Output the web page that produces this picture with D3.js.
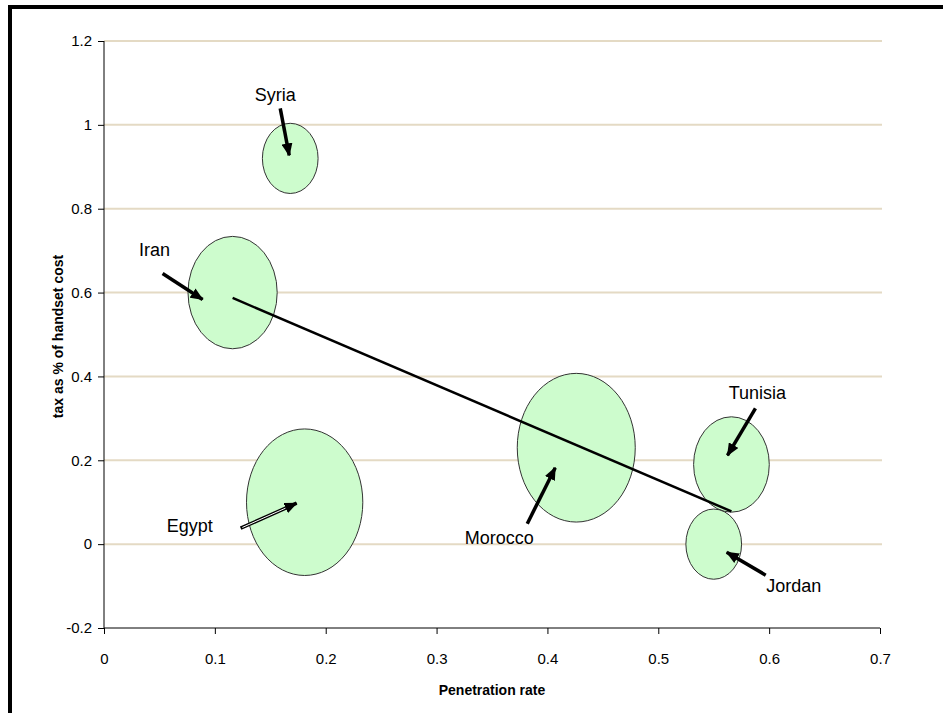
<!DOCTYPE html>
<html>
<head>
<meta charset="utf-8">
<script src="https://cdn.jsdelivr.net/npm/d3@7"></script>
<style>
  html, body { margin: 0; padding: 0; background: #fff; }
  svg { display: block; font-family: "Liberation Sans", Arial, sans-serif; }
</style>
</head>
<body>
<svg id="chart" width="943" height="713"></svg>
<script>
// ---- data ----
const countries   = ["Syria", "Iran", "Egypt", "Morocco", "Tunisia", "Jordan"];
const penetration = [0.168, 0.116, 0.181, 0.426, 0.566, 0.550];
const taxShare    = [0.92, 0.60, 0.10, 0.23, 0.19, 0.00];
const bubbleSize  = [7.8, 20, 34, 35, 14.4, 7.8];
const xTicks = [0, 0.1, 0.2, 0.3, 0.4, 0.5, 0.6, 0.7];
const yTicks = [-0.2, 0, 0.2, 0.4, 0.6, 0.8, 1, 1.2];
const xTickLabels = ["0", "0.1", "0.2", "0.3", "0.4", "0.5", "0.6", "0.7"];
const yTickLabels = ["-0.2", "0", "0.2", "0.4", "0.6", "0.8", "1", "1.2"];
const xTitle = "Penetration rate";
const yTitle = "tax as % of handset cost";

// ---- annotation layout (pixel offsets from each bubble centre) ----
const labelLayout = {
  Syria:   { text: [-15, -57], tail: [-10, -50], head: [-1, -3] },
  Iran:    { text: [-78, -37], tail: [-70, -19], head: [-30, 7] },
  Egypt:   { text: [-115, 30], tail: [-64, 26],  head: [-8, 1], hollow: true },
  Morocco: { text: [-77, 96],  tail: [-49, 76],  head: [-21, 20] },
  Tunisia: { text: [26, -65],  tail: [24, -56],  head: [-4, -9] },
  Jordan:  { text: [80, 48],   tail: [52, 31],   head: [13, 8] }
};

const svg = d3.select("#chart");
const W = 943, H = 713;
const plot = { left: 104, right: 880, top: 41, bottom: 628 };

// frame
svg.append("rect").attr("x", 10).attr("y", 7).attr("width", W + 20).attr("height", H + 20)
  .attr("fill", "none").attr("stroke", "#000").attr("stroke-width", 4);

const x = d3.scaleLinear().domain([0, 0.7]).range([plot.left, plot.right]);
const y = d3.scaleLinear().domain([-0.2, 1.2]).range([plot.bottom, plot.top]);
const r = d3.scaleSqrt().domain([0, 35]).range([0, 59]);
const aspect = 1.26;

// gridlines
svg.append("g").selectAll("line").data(yTicks.filter(t => t > -0.2)).join("line")
  .attr("x1", plot.left).attr("x2", plot.right + 2)
  .attr("y1", d => y(d)).attr("y2", d => y(d))
  .attr("stroke", "#E4DAC4").attr("stroke-width", 2);

// axes
const xAxis = d3.axisBottom(x).tickValues(xTicks).tickFormat((d, i) => xTickLabels[i]).tickSize(6).tickPadding(19);
const yAxis = d3.axisLeft(y).tickValues(yTicks).tickFormat((d, i) => yTickLabels[i]).tickSize(6).tickPadding(6);

const gx = svg.append("g").attr("transform", `translate(0,${plot.bottom})`).call(xAxis);
const gy = svg.append("g").attr("transform", `translate(${plot.left},0)`).call(yAxis);
[gx, gy].forEach(g => {
  g.select(".domain").attr("stroke", "#000").attr("stroke-width", 1);
  g.selectAll(".tick line").attr("stroke", "#000");
  g.selectAll(".tick text").attr("fill", "#000").attr("font-size", 15)
    .attr("font-family", "'Liberation Sans', Arial, sans-serif");
});
gx.select(".domain").attr("d", `M${plot.left},0H${plot.right}`);
gy.select(".domain").attr("d", `M0,${plot.bottom}V${plot.top}`);

// bubbles
const pts = countries.map((c, i) => ({ c, px: penetration[i], ty: taxShare[i], s: bubbleSize[i] }));
svg.append("g").selectAll("ellipse").data(pts).join("ellipse")
  .attr("cx", d => x(d.px)).attr("cy", d => y(d.ty))
  .attr("rx", d => r(d.s)).attr("ry", d => r(d.s) * aspect)
  .attr("fill", "#CDFCCD").attr("stroke", "#333").attr("stroke-width", 1);

// linear trend line (least squares)
const mx = d3.mean(penetration), my = d3.mean(taxShare);
const sxy = d3.sum(penetration, (v, i) => (v - mx) * (taxShare[i] - my));
const sxx = d3.sum(penetration, v => (v - mx) * (v - mx));
const slope = sxy / sxx, icpt = my - slope * mx;
const [x0, x1] = d3.extent(penetration);
svg.append("line")
  .attr("x1", x(x0)).attr("y1", y(icpt + slope * x0))
  .attr("x2", x(x1)).attr("y2", y(icpt + slope * x1))
  .attr("stroke", "#000").attr("stroke-width", 2.5);

// arrow marker
svg.append("defs").append("marker")
  .attr("id", "ah").attr("markerUnits", "userSpaceOnUse")
  .attr("viewBox", "0 0 13 11").attr("refX", 12).attr("refY", 5.5)
  .attr("markerWidth", 13).attr("markerHeight", 11).attr("orient", "auto")
  .append("path").attr("d", "M0,0L13,5.5L0,11Z").attr("fill", "#000");

// annotations
const ann = svg.append("g");
pts.forEach(d => {
  const L = labelLayout[d.c];
  const cx = x(d.px), cy = y(d.ty);
  ann.append("line")
    .attr("x1", cx + L.tail[0]).attr("y1", cy + L.tail[1])
    .attr("x2", cx + L.head[0]).attr("y2", cy + L.head[1])
    .attr("stroke", "#000").attr("stroke-width", 3.5)
    .attr("marker-end", "url(#ah)");
  if (L.hollow) {
    const dx = L.head[0] - L.tail[0], dy = L.head[1] - L.tail[1];
    ann.append("line")
      .attr("x1", cx + L.tail[0] + dx * 0.03).attr("y1", cy + L.tail[1] + dy * 0.03)
      .attr("x2", cx + L.tail[0] + dx * 0.8).attr("y2", cy + L.tail[1] + dy * 0.8)
      .attr("stroke", "#fff").attr("stroke-width", 1);
  }
  ann.append("text")
    .attr("x", cx + L.text[0]).attr("y", cy + L.text[1])
    .attr("text-anchor", "middle").attr("font-size", 18).attr("fill", "#000")
    .text(d.c);
});

// axis titles
svg.append("text").attr("x", (plot.left + plot.right) / 2).attr("y", 695)
  .attr("text-anchor", "middle").attr("font-size", 14).attr("font-weight", "bold")
  .text(xTitle);
svg.append("text").attr("transform", `translate(63,${(plot.top + plot.bottom) / 2 + 2}) rotate(-90)`)
  .attr("text-anchor", "middle").attr("font-size", 14).attr("font-weight", "bold")
  .text(yTitle);
</script>
</body>
</html>
